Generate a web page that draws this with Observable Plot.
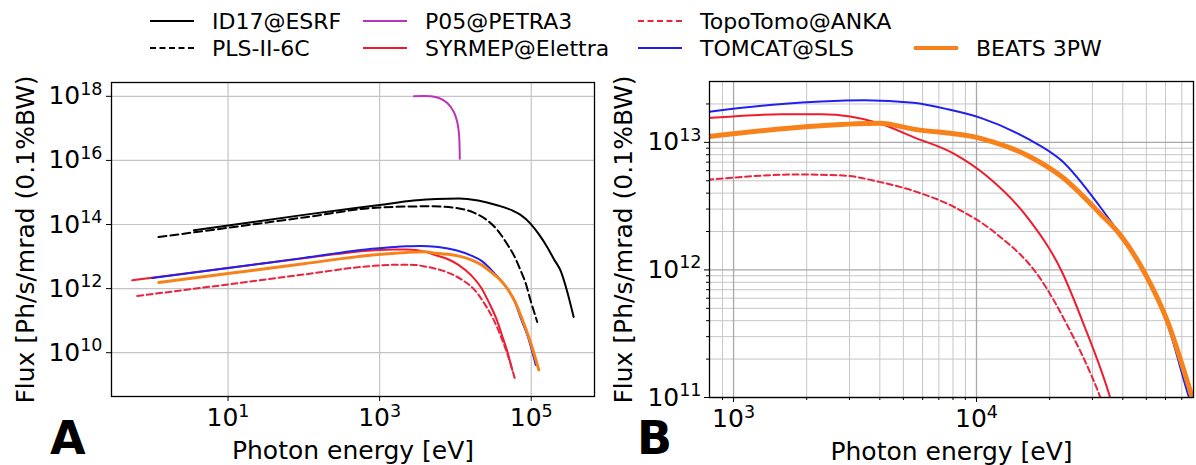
<!DOCTYPE html>
<html><head><meta charset="utf-8">
<script src="https://cdn.jsdelivr.net/npm/d3@7"></script>
<script src="https://cdn.jsdelivr.net/npm/@observablehq/plot@0.6"></script>
<style>
html,body{margin:0;padding:0;background:#fff;}
#fig{position:relative;width:1196px;height:465px;overflow:hidden;background:#fff;}
#pa{position:absolute;left:0;top:72px;}
#pb{position:absolute;left:600px;top:72px;}
#over{position:absolute;left:0;top:0;pointer-events:none;}
</style></head><body>
<div id="fig">
<div id="pa"></div><div id="pb"></div>
<svg id="over" width="1196" height="465"></svg>
</div>
<script>
// ---------------- data ----------------
const names = ["ID17@ESRF","PLS-II-6C","P05@PETRA3","SYRMEP@Elettra","TopoTomo@ANKA","TOMCAT@SLS","BEATS 3PW"];

const id17E = [3.55,10,100,1000,2818,5623,11220,19950,35480,56230,72440,97720,125900,162200,199500,245500,295100,363100];
const id17F = [6.6e13,9.3e13,2.0e14,4.07e14,5.6e14,6.3e14,6.5e14,5.6e14,4.0e14,2.75e14,2.0e14,1.07e14,5.0e13,2.0e13,8.3e12,3.5e12,8.9e11,1.3e11];

const plsE = [1.21,10,100,1000,4677,11220,17780,26300,35480,47860,60260,72440,85110,97720,120200];
const plsF = [4.07e13,7.9e13,1.66e14,3.4e14,3.7e14,3.16e14,2.3e14,1.35e14,6.9e13,2.5e13,1.0e13,3.7e12,1.4e12,4.4e11,9.1e10];

const p05E = [2838,4710,6067,7816,9572,10593,11143,11350,11430];
const p05F = [1e18,1e18,8.9e17,6.2e17,3.2e17,1.55e17,6.8e16,2.6e16,1.12e16];

const syrmepE = [0.545,10,100,794,1585,2291,3981,5495,8128,10960,16220,22390,27540,35480,41690,47860,56230];
const syrmepF = [1.82e12,4.37e12,8.9e12,1.55e13,1.66e13,1.66e13,1.41e13,1.1e13,8.1e12,5.5e12,2.57e12,9.8e11,3.8e11,1.0e11,3.2e10,1.2e10,2.9e9];

const topoE = [0.634,10,100,794,1820,2818,3981,5495,8128,12160,18200,23440,32360,39810,47860,61660];
const topoF = [5.9e11,1.35e12,2.75e12,5.1e12,5.6e12,5.5e12,4.9e12,4.17e12,3.1e12,1.9e12,8.7e11,3.8e11,1.0e11,3.2e10,1.0e10,1.4e9];

const tomcatE = [1,10,100,794,1585,2291,3467,5495,7586,10470,16220,22390,32360,38900,50120,60950,74130,89130,114800];
const tomcatF = [2.14e12,4.37e12,9.1e12,1.74e13,2.0e13,2.09e13,2.14e13,2.04e13,1.82e13,1.55e13,1.07e13,7.2e12,3.1e12,1.9e12,8.7e11,3.8e11,1.07e11,3.5e10,4.1e9];

const beatsE = [1.22,10,100,794,2291,3981,5495,10470,16220,22390,32360,38900,50120,60950,75860,100000,125900];
const beatsF = [1.55e12,2.95e12,6.0e12,1.11e13,1.35e13,1.41e13,1.27e13,1.07e13,7.9e12,5.4e12,2.75e12,1.9e12,8.9e11,4.0e11,1.12e11,1.8e10,2.9e9];

// series shown in the zoomed panel B
const panelBSeries = ["SYRMEP@Elettra","TopoTomo@ANKA","TOMCAT@SLS","BEATS 3PW"];

// tick values
const xTicksA = [10, 1e3, 1e5];
const yTicksA = [1e10, 1e12, 1e14, 1e16, 1e18];
const xTicksB = [1e3, 1e4];
const yTicksB = [1e11, 1e12, 1e13];
const xMinorB = [900,2000,3000,4000,5000,6000,7000,8000,9000,20000,30000,40000,50000,60000,70000];
const yMinorB = [2e11,3e11,4e11,5e11,6e11,7e11,8e11,9e11,2e12,3e12,4e12,5e12,6e12,7e12,8e12,9e12,2e13];

const xLabel = "Photon energy [eV]";
const yLabel = "Flux [Ph/s/mrad (0.1%BW)";

// ---------------- styling ----------------
const seriesE = [id17E, plsE, p05E, syrmepE, topoE, tomcatE, beatsE];
const seriesF = [id17F, plsF, p05F, syrmepF, topoF, tomcatF, beatsF];
const colors = ["#000000","#000000","#bb33bb","#ee1c2e","#e8243f","#2020f0","#f7821b"];
const dashes = [null,"8,4",null,null,"6,3.5",null,null];
const widthA = [2,2,2,2,2,2,3];
const widthB = [2,2,2,2,2,2,5];

const rows = names.map((n,i) => seriesE[i].map((e,j) => ({series:n, E:e, F:seriesF[i][j]})));

const fmt = d => "10^" + Math.round(Math.log10(d));

function supers(svg){
  svg.querySelectorAll('g[aria-label$="tick label"] text').forEach(t => {
    const m = (t.textContent||"").match(/^10\^(-?\d+)$/);
    if (!m) return;
    t.textContent = "10";
    const ts = document.createElementNS("http://www.w3.org/2000/svg","tspan");
    ts.setAttribute("dy","-0.54em");
    ts.setAttribute("font-size","0.7em");
    ts.textContent = m[1];
    t.appendChild(ts);
  });
  return svg;
}

function lines(widths, clip, keep){
  return rows.map((r,i) => (keep && !keep.includes(names[i])) ? null : Plot.line(r, {
    x:"E", y:"F", stroke: colors[i], strokeWidth: widths[i],
    strokeDasharray: dashes[i] || undefined,
    curve: i === 2 ? "catmull-rom" : "monotone-x", clip
  })).filter(Boolean);
}

const common = {
  style: {fontFamily: "'DejaVu Sans', sans-serif", fontSize: "25px", color: "#000", background: "transparent"}
};

// ---------------- panel A ----------------
const A = Plot.plot({
  ...common,
  width: 600, height: 393,
  marginLeft: 111, marginRight: 6, marginTop: 10, marginBottom: 69,
  x: {type: "log", domain: [0.29, 6.84e5]},
  y: {type: "log", domain: [4.3e8, 2.7e18]},
  marks: [
    Plot.gridX(xTicksA, {stroke: "#c4c4c4", strokeOpacity: 1, strokeWidth: 1.2}),
    Plot.gridY(yTicksA, {stroke: "#c4c4c4", strokeOpacity: 1, strokeWidth: 1.2}),
    ...lines(widthA, false, null),
    Plot.axisX({ticks: xTicksA, tickFormat: fmt, tickSize: 5, tickPadding: 7,
      label: xLabel, labelAnchor: "center", labelOffset: 62, labelArrow: "none"}),
    Plot.axisY({ticks: yTicksA, tickFormat: fmt, tickSize: 5, tickPadding: 4,
      label: yLabel, labelAnchor: "center", labelOffset: 95, labelArrow: "none"}),
    Plot.frame({stroke: "#000", strokeWidth: 1.3})
  ]
});
document.getElementById("pa").appendChild(supers(A));

// ---------------- panel B ----------------
const B = Plot.plot({
  ...common,
  width: 596, height: 393,
  marginLeft: 109, marginRight: 3, marginTop: 9, marginBottom: 68,
  x: {type: "log", domain: [796, 78200]},
  y: {type: "log", domain: [1e11, 3.0e13]},
  marks: [
    Plot.gridX(xMinorB, {stroke: "#c6c6c6", strokeOpacity: 1, strokeWidth: 1}),
    Plot.gridY(yMinorB, {stroke: "#c6c6c6", strokeOpacity: 1, strokeWidth: 1}),
    Plot.gridX(xTicksB, {stroke: "#a8a8a8", strokeOpacity: 1, strokeWidth: 1.3}),
    Plot.gridY(yTicksB, {stroke: "#a8a8a8", strokeOpacity: 1, strokeWidth: 1.3}),
    ...lines(widthB, true, panelBSeries),
    Plot.axisX({ticks: xMinorB, tickFormat: () => "", tickSize: 3, label: null}),
    Plot.axisY({ticks: yMinorB, tickFormat: () => "", tickSize: 3, label: null}),
    Plot.axisX({ticks: xTicksB, tickFormat: fmt, tickSize: 5, tickPadding: 7,
      label: xLabel, labelAnchor: "center", labelOffset: 62, labelArrow: "none"}),
    Plot.axisY({ticks: yTicksB, tickFormat: fmt, tickSize: 5, tickPadding: 3,
      label: yLabel, labelAnchor: "center", labelOffset: 95, labelArrow: "none"}),
    Plot.frame({stroke: "#000", strokeWidth: 1.3})
  ]
});
document.getElementById("pb").appendChild(supers(B));

// ---------------- legend & panel letters ----------------
const over = d3.select("#over");
const legCols = [150, 363, 638, 914];   // sample start per column
const legRows = [21, 48];               // sample y per row
const legendItems = [[0,0],[0,1],[1,0],[1,1],[2,0],[2,1],[3,1]]; // [col,row] per series (column-major)
legendItems.forEach(([c,r], i) => {
  const x0 = legCols[c], y0 = legRows[r];
  over.append("line").attr("x1", x0).attr("x2", x0 + 44).attr("y1", y0).attr("y2", y0)
    .attr("stroke", colors[i]).attr("stroke-width", i === 6 ? 4 : 2)
    .attr("stroke-dasharray", dashes[i] ? "6,3.5" : null);
  over.append("text").attr("x", x0 + 62).attr("y", y0 + 7.5)
    .attr("font-family", "'DejaVu Sans', sans-serif").attr("font-size", 22)
    .attr("fill", "#000").text(names[i]);
});
over.append("text").attr("x", 50).attr("y", 454).attr("font-family", "'DejaVu Sans', sans-serif")
  .attr("font-weight", "bold").attr("font-size", 46).attr("fill", "#000").text("A");
over.append("text").attr("x", 637).attr("y", 454).attr("font-family", "'DejaVu Sans', sans-serif")
  .attr("font-weight", "bold").attr("font-size", 46).attr("fill", "#000").text("B");
</script>
</body></html>
